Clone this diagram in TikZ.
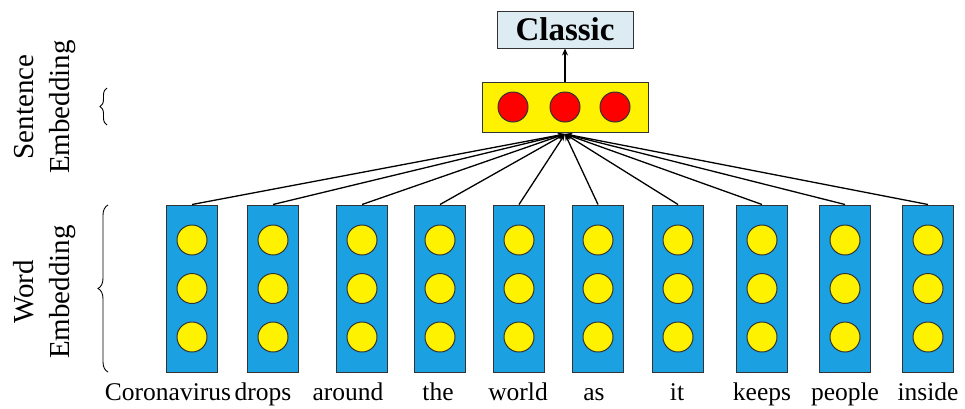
\documentclass[tikz,border=0pt]{standalone}
\usepackage{fontspec}
\setmainfont{Liberation Serif}
\usetikzlibrary{arrows.meta,decorations.pathreplacing}
\definecolor{wblue}{HTML}{1BA1E2}
\definecolor{cfill}{HTML}{DCECF2}
\begin{document}
\begin{tikzpicture}[x=1pt,y=-1pt,
  wordbox/.style={draw=black!80,line width=1pt,fill=wblue,minimum width=51pt,minimum height=167pt,inner sep=0pt},
  ydot/.style={circle,draw=black!80,line width=1pt,fill=yellow,minimum size=30pt,inner sep=0pt},
  rdot/.style={circle,draw=black!80,line width=1pt,fill=red,minimum size=30pt,inner sep=0pt},
  wordlabel/.style={font=\fontsize{25.5}{28}\selectfont,inner sep=0pt,anchor=base},
  sidelabel/.style={font=\fontsize{29}{36}\selectfont,rotate=90,inner sep=0pt,align=center},
  conn/.style={line width=1.3pt,-{Stealth[length=7pt,width=5pt]}},
  bracestyle/.style={line width=0.9pt,decorate,decoration={brace,amplitude=9pt}}]
\useasboundingbox (0,0) rectangle (965,408);
% sentence box
\node[draw=black!80,line width=1pt,fill=yellow,minimum width=166pt,minimum height=50pt,inner sep=0pt] (sent) at (565,107) {};
\node[rdot] (r1) at (513,107) {};
\node[rdot] (r2) at (565,107) {};
\node[rdot] (r3) at (615,107) {};
% classic
\node[draw=black!80,line width=1pt,fill=cfill,minimum width=136pt,minimum height=37pt,inner sep=0pt,font=\fontsize{33}{36}\selectfont\bfseries] (cls) at (565,29.5) {Classic};
\draw[line width=1.3pt,-{Stealth[length=7pt,width=6pt]}] (sent.north) -- (cls.south);
\coordinate (hub) at (565,134);
% word boxes
\foreach \i/\x in {1/192,2/273,3/362,4/440,5/519,6/598,7/678,8/762,9/845,10/928}{
  \node[wordbox] (w\i) at (\x,288.5) {};
  \node[ydot] (a\i) at (\x,240) {};
  \node[ydot] (b\i) at (\x,288.5) {};
  \node[ydot] (c\i) at (\x,337) {};
  \draw[conn] (w\i.north) -- (hub);
}
\foreach \i/\x/\w in {1/168/Coronavirus,2/263/drops,3/348/around,4/438/the,5/518/world,6/594/as,7/677/it,8/762/keeps,9/845/people,10/928/inside}{
  \node[wordlabel] (t\i) at (\x,400) {\w};
}
% side labels
\node[sidelabel] (sl) at (45,107) {Sentence\\Embedding};
\node[sidelabel] (wl) at (45,292) {Word\\Embedding};
\coordinate (sb1) at (107,125);
\coordinate (sb2) at (107,88);
\draw[bracestyle,decoration={amplitude=7pt}] (sb1) -- (sb2);
\coordinate (wb1) at (108,372);
\coordinate (wb2) at (108,205);
\draw[bracestyle,decoration={amplitude=10pt}] (wb1) -- (wb2);
\end{tikzpicture}
\end{document}
